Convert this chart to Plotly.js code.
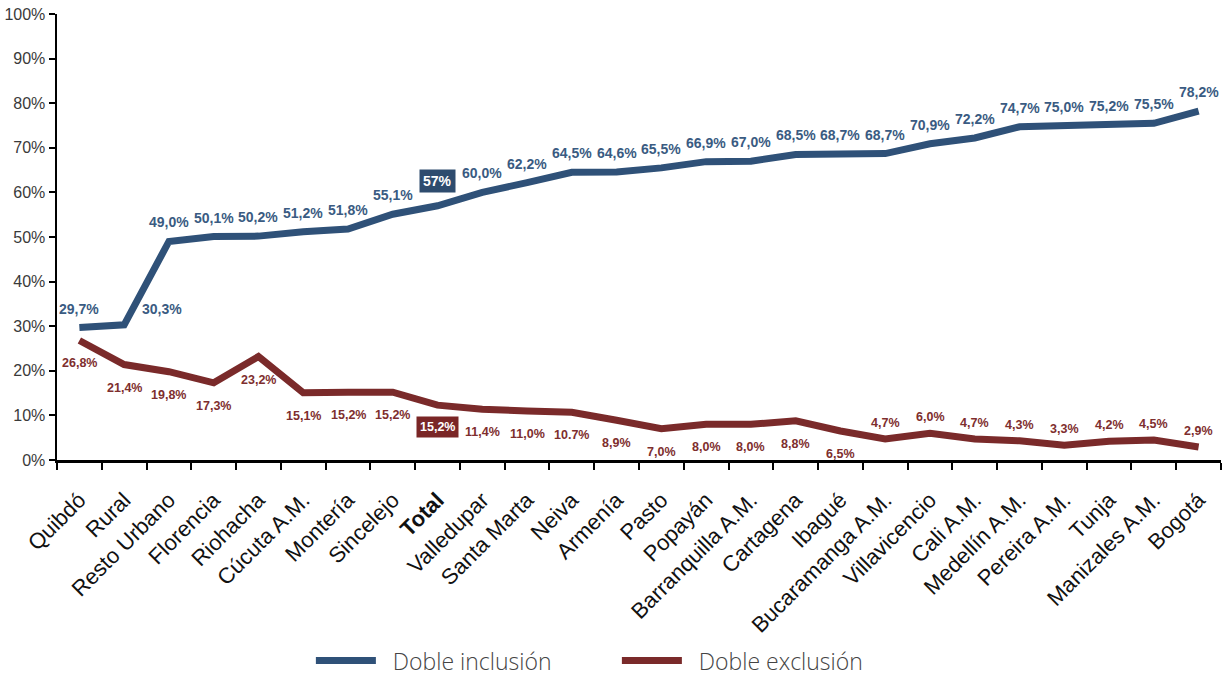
<!DOCTYPE html>
<html><head><meta charset="utf-8">
<script src="https://cdn.plot.ly/plotly-3.0.1.min.js"></script>
<style>html,body{margin:0;padding:0;background:#fff}#chart{width:1227px;height:681px}</style>
</head><body><div id="chart"></div>
<script>
const categories = ["Quibdó","Rural","Resto Urbano","Florencia","Riohacha","Cúcuta A.M.","Montería","Sincelejo","Total","Valledupar","Santa Marta","Neiva","Armenía","Pasto","Popayán","Barranquilla A.M.","Cartagena","Ibagué","Bucaramanga A.M.","Villavicencio","Cali A.M.","Medellín A.M.","Pereira A.M.","Tunja","Manizales A.M.","Bogotá"];
const inclusion = [29.7,30.3,49.0,50.1,50.2,51.2,51.8,55.1,57.0,60.0,62.2,64.5,64.6,65.5,66.9,67.0,68.5,68.7,68.7,70.9,72.2,74.7,75.0,75.2,75.5,78.2];
const inclusionLabels = ["29,7%","30,3%","49,0%","50,1%","50,2%","51,2%","51,8%","55,1%","57%","60,0%","62,2%","64,5%","64,6%","65,5%","66,9%","67,0%","68,5%","68,7%","68,7%","70,9%","72,2%","74,7%","75,0%","75,2%","75,5%","78,2%"];
const exclusion = [26.8,21.4,19.8,17.3,23.2,15.1,15.2,15.2,12.3,11.4,11.0,10.7,8.9,7.0,8.0,8.0,8.8,6.5,4.7,6.0,4.7,4.3,3.3,4.2,4.5,2.9];
const exclusionLabels = ["26,8%","21,4%","19,8%","17,3%","23,2%","15,1%","15,2%","15,2%","15,2%","11,4%","11,0%","10.7%","8,9%","7,0%","8,0%","8,0%","8,8%","6,5%","4,7%","6,0%","4,7%","4,3%","3,3%","4,2%","4,5%","2,9%"];
const yTicks = [0,10,20,30,40,50,60,70,80,90,100];
const seriesNames = ["Doble inclusión","Doble exclusión"];

const blue = "#2f5178", blueText = "#3a5b82", red = "#7a2a2a", redText = "#7e2e2e";
const totalIdx = categories.indexOf("Total");

const traces = [
  {x: categories, y: inclusion, type: "scatter", mode: "lines", name: "\u00a0\u00a0" + seriesNames[0],
   line: {color: blue, width: 7}},
  {x: categories, y: exclusion, type: "scatter", mode: "lines", name: "\u00a0\u00a0" + seriesNames[1],
   line: {color: red, width: 7}}
];

const annotations = [];
categories.forEach((c, i) => {
  const isTotal = i === totalIdx;
  annotations.push({
    x: c, y: inclusion[i], text: "<b>" + inclusionLabels[i] + "</b>",
    showarrow: false, xshift: i === 1 ? 38 : 0, yshift: isTotal ? 25 : (i === 1 ? 16 : 19),
    font: {family: "Liberation Sans, Arial", size: 14, color: isTotal ? "#fff" : blueText},
    bgcolor: isTotal ? "#2e4c6e" : "rgba(0,0,0,0)", borderpad: 3
  });
  const above = i >= 18;
  annotations.push({
    x: c, y: exclusion[i], text: "<b>" + exclusionLabels[i] + "</b>",
    showarrow: false, yshift: isTotal ? -22 : (above ? 16 : -23),
    font: {family: "Liberation Sans, Arial", size: 12.5, color: isTotal ? "#fff" : redText},
    bgcolor: isTotal ? "#7a2626" : "rgba(0,0,0,0)", borderpad: 3
  });
});

const layout = {
  width: 1227, height: 681,
  margin: {l: 57, r: 6, t: 14, b: 221, autoexpand: false},
  paper_bgcolor: "#fff", plot_bgcolor: "#fff",
  showlegend: true,
  legend: {orientation: "h", x: 0.481, xanchor: "center", yref: "container", y: 0.03, yanchor: "middle",
           font: {family: "Open Sans, Lato, sans-serif", size: 23, color: "#444", weight: 300},
           itemwidth: 60, entrywidth: 231},
  xaxis: {type: "category", range: [-0.5, categories.length - 0.5], tickson: "boundaries",
          ticks: "outside", ticklen: 7, tickwidth: 2, tickcolor: "#000",
          showline: true, linecolor: "#000", linewidth: 2.5, showgrid: false, zeroline: false,
          tickangle: -45, tickmode: "array", tickvals: categories, ticklabelstandoff: 16,
          ticktext: categories.map(c => c === "Total" ? "<b>Total</b>" : c),
          tickfont: {family: "Liberation Sans, Arial", size: 22, color: "#111"}},
  yaxis: {range: [0, 100], tickmode: "array", tickvals: yTicks, ticktext: yTicks.map(v => v + "%"),
          ticks: "outside", ticklen: 6, tickwidth: 2, tickcolor: "#000",
          showline: true, linecolor: "#000", linewidth: 2.5, showgrid: false, zeroline: false,
          tickfont: {family: "Liberation Sans, Arial", size: 16, color: "#3a3a3a"}},
  annotations: annotations
};

Plotly.newPlot("chart", traces, layout, {staticPlot: true, displayModeBar: false});
</script></body></html>
